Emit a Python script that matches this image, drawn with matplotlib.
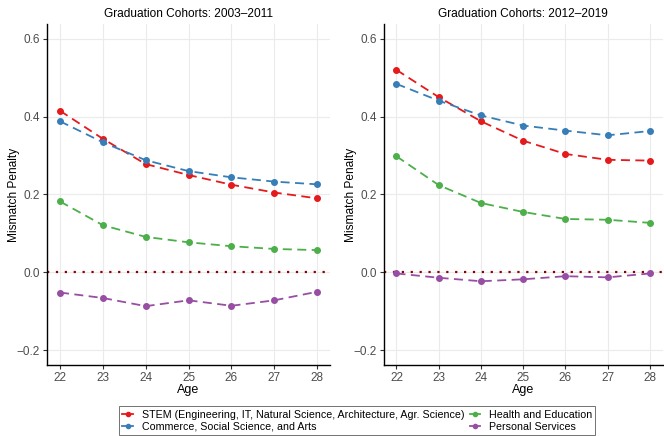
import matplotlib
matplotlib.use("Agg")
import matplotlib.pyplot as plt
from matplotlib.ticker import FuncFormatter

plt.rcParams["font.family"] = ["Liberation Sans", "DejaVu Sans"]

ages = [22, 23, 24, 25, 26, 27, 28]

# cohorts 2003-2011
stem_a = [0.415, 0.343, 0.278, 0.250, 0.225, 0.205, 0.190]
comm_a = [0.388, 0.334, 0.288, 0.260, 0.244, 0.233, 0.226]
health_a = [0.182, 0.121, 0.091, 0.077, 0.067, 0.060, 0.057]
pers_a = [-0.052, -0.066, -0.087, -0.072, -0.086, -0.072, -0.050]

# cohorts 2012-2019
stem_b = [0.520, 0.450, 0.388, 0.338, 0.304, 0.289, 0.287]
comm_b = [0.484, 0.441, 0.403, 0.377, 0.364, 0.352, 0.363]
health_b = [0.298, 0.224, 0.178, 0.155, 0.137, 0.135, 0.127]
pers_b = [-0.003, -0.014, -0.023, -0.018, -0.010, -0.013, -0.003]

titles = ["Graduation Cohorts: 2003\u20132011", "Graduation Cohorts: 2012\u20132019"]
labels = ["STEM (Engineering, IT, Natural Science, Architecture, Agr. Science)",
          "Commerce, Social Science, and Arts",
          "Health and Education",
          "Personal Services"]
colors = ["#E41A1C", "#377EB8", "#4DAF4A", "#984EA3"]
yticks = [-0.2, 0.0, 0.2, 0.4, 0.6]

panels = [[stem_a, comm_a, health_a, pers_a], [stem_b, comm_b, health_b, pers_b]]


def fmt(v, pos):
    s = "%.1f" % abs(v)
    return ("\u2212" + s) if v < -1e-9 else s


fig = plt.figure(figsize=(6.64, 4.36), dpi=100)
axes = [fig.add_axes([0.071, 0.163, 0.426, 0.782]),
        fig.add_axes([0.578, 0.163, 0.42, 0.782])]

handles = []
for ax, data, title in zip(axes, panels, titles):
    ax.axhline(0, color="#8B0000", linestyle=(0, (1, 3)), linewidth=1.6, zorder=1)
    hs = []
    for vals, c, lab in zip(data, colors, labels):
        h, = ax.plot(ages, vals, color=c, linestyle=(0, (5, 3)), linewidth=1.3,
                     marker="o", markersize=4, label=lab, zorder=3)
        hs.append(h)
    handles = hs
    ax.set_xlim(21.7, 28.3)
    ax.set_ylim(-0.238, 0.638)
    ax.set_xticks(ages)
    ax.set_yticks(yticks)
    ax.yaxis.set_major_formatter(FuncFormatter(fmt))
    ax.grid(True, color="#EBEBEB", linewidth=0.8, zorder=0)
    ax.set_axisbelow(True)
    for s in ["top", "right"]:
        ax.spines[s].set_visible(False)
    for s in ["left", "bottom"]:
        ax.spines[s].set_linewidth(1.0)
    ax.tick_params(labelsize=8.5, colors="#4D4D4D", length=3, width=0.8, pad=2)
    ax.tick_params(axis="both", which="both", color="#333333")
    ax.set_title(title, fontsize=8.6, pad=5)
    ax.set_xlabel("Age", fontsize=9, labelpad=0)
    ax.set_ylabel("Mismatch Penalty", fontsize=8.6)
    ax.yaxis.set_label_coords(-0.097, 0.5)

leg = fig.legend(handles=handles, loc="lower center", bbox_to_anchor=(0.538, -0.01),
                 ncol=2, fontsize=7.7, frameon=True, fancybox=False,
                 edgecolor="#333333", handlelength=1.0, handletextpad=0.8,
                 columnspacing=0.5, borderpad=0.3, labelspacing=0.2)
leg.get_frame().set_linewidth(0.6)
for h in leg.legend_handles:
    h.set_linestyle("-")
    h.set_markersize(3)

fig.savefig("out.png", dpi=100)
